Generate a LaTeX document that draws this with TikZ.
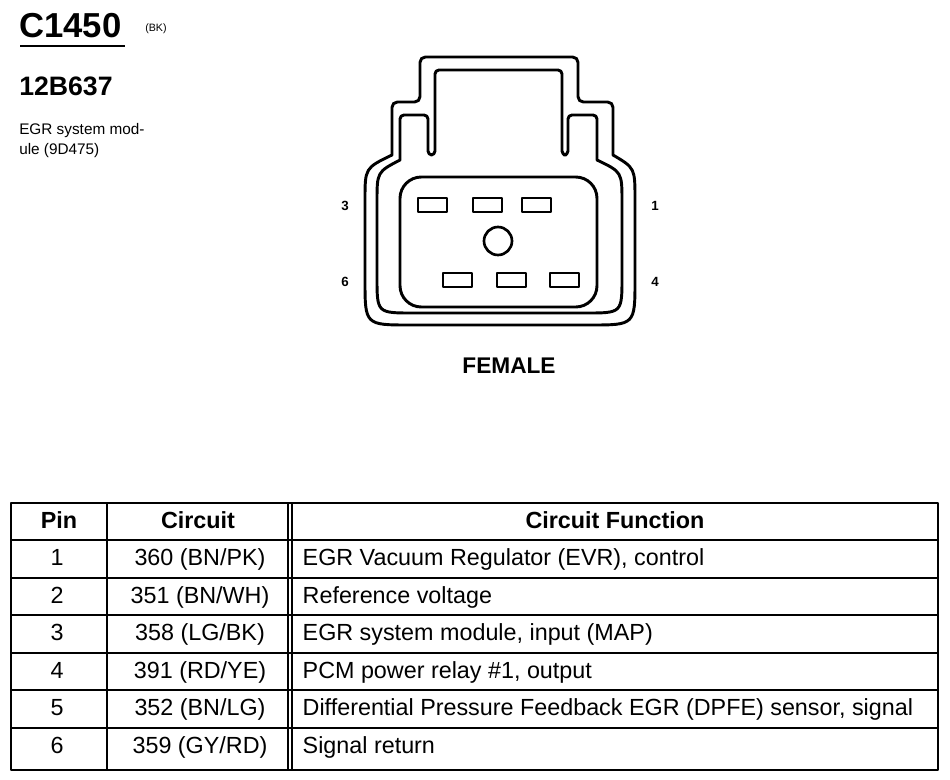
\documentclass[tikz,border=0pt]{standalone}
\usepackage{fontspec}
\setmainfont{Liberation Sans}
\usetikzlibrary{positioning}

\begin{document}
\begin{tikzpicture}[x=0.75pt,y=-0.75pt, line join=round,
    outline/.style={line width=2.2pt},
    pinbox/.style={line width=2pt},
    cell/.style={font=\fontsize{17.5}{19}\selectfont, anchor=center, text height=1.6ex, text depth=.45ex},
    head/.style={cell, font=\bfseries\fontsize{17.5}{19}\selectfont},
    pinlbl/.style={font=\bfseries\fontsize{10}{11}\selectfont}]

    \useasboundingbox (0,0) rectangle (950,779);

    %Title block
    \node[font=\bfseries\fontsize{26}{28}\selectfont, anchor=base west, inner sep=0pt] (conn) at (19,37) {C1450};
    \node[font=\fontsize{8}{9}\selectfont, anchor=base west, inner sep=0pt] (color) at (145,31) {(BK)};
    \draw[line width=1.4pt] (20,46) -- (125,46);
    \node[font=\bfseries\fontsize{20}{22}\selectfont, anchor=base west, inner sep=0pt] (part) at (19,95) {12B637};
    \node[font=\fontsize{11.5}{15}\selectfont, anchor=north west, align=left, inner sep=0pt] (desc) at (19,123) {EGR system mod-\\ule (9D475)};

    %Connector outer shell
    \draw[outline] (392,155) [rounded corners=4pt]-- (392,102) -- (420,102) -- (420,57) -- (578,57) -- (578,102) -- (613,102) [sharp corners]-- (613,155)
        .. controls (635,168) .. (635,200) -- (635,280) .. controls (635,325) .. (590,325) -- (410,325) .. controls (365,325) .. (365,280) -- (365,200) .. controls (365,168) .. cycle;
    %second line
    \draw[outline] (400,160) [rounded corners=3pt]-- (400,115) -- (428,115) -- (428,155) -- (435,155) -- (435,70) -- (562,70) -- (562,155) -- (568,155) -- (568,115) -- (597,115) [sharp corners]-- (597,160)
        .. controls (622,172) .. (622,202) -- (622,277) .. controls (622,313) .. (586,313) -- (413,313) .. controls (377,313) .. (377,277) -- (377,202) .. controls (377,172) .. cycle;
    %inner face
    \draw[outline, rounded corners=16pt] (400,177) rectangle (597,307);

    %Cavities
    \foreach \x in {418,473,522}
        \draw[pinbox] (\x,198) rectangle ++(29,14);
    \foreach \x in {443,497,550}
        \draw[pinbox] (\x,273) rectangle ++(29,14);
    \draw[pinbox] (498,241) circle (14);

    \node[pinlbl] (p3) at (345,206) {3};
    \node[pinlbl] (p1) at (655,206) {1};
    \node[pinlbl] (p6) at (345,282) {6};
    \node[pinlbl] (p4) at (655,282) {4};
    \node[font=\bfseries\fontsize{17}{19}\selectfont] (gender) at (509,366) {FEMALE};

    %Table
    \draw[line width=2pt] (11,503) rectangle (938,770);
    \draw[line width=1.3pt] (107,503) -- (107,770);
    \draw[line width=1.1pt] (288,503) -- (288,770);
    \draw[line width=0.8pt] (292,503) -- (292,770);
    \foreach \y in {540,578,615,653,690,728}
        \draw[line width=1.6pt] (11,\y) -- (938,\y);

    \node[head] (hpin) at (59,524) {Pin};
    \node[head] (hcirc) at (198,524) {Circuit};
    \node[head] (hfunc) at (615,524) {Circuit Function};

    \foreach \i/\c/\f in {1/{360 (BN/PK)}/{EGR Vacuum Regulator (EVR), control},
                          2/{351 (BN/WH)}/{Reference voltage},
                          3/{358 (LG/BK)}/{EGR system module, input (MAP)},
                          4/{391 (RD/YE)}/{PCM power relay \#1, output},
                          5/{352 (BN/LG)}/{Differential Pressure Feedback EGR (DPFE) sensor, signal},
                          6/{359 (GY/RD)}/{Signal return}}
    {
        \node[cell] (pin\i) at (57,{524+37.5*\i}) {\i};
        \node[cell] (circ\i) at (200,{524+37.5*\i}) {\c};
        \node[cell, anchor=west] (func\i) at (298,{524+37.5*\i}) {\f};
    }
\end{tikzpicture}
\end{document}
